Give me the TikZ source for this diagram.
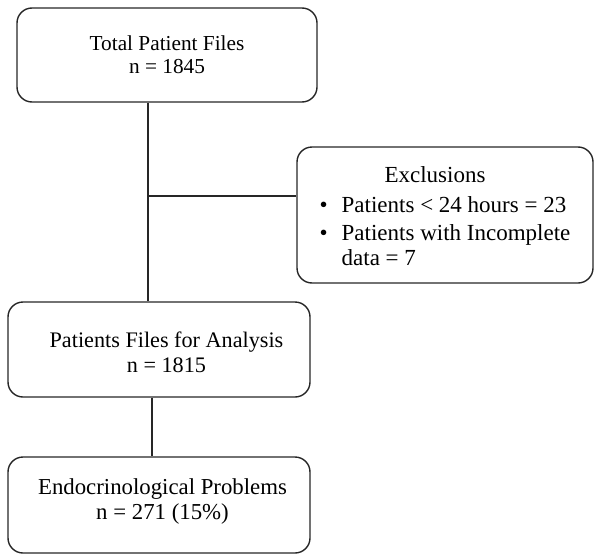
\documentclass[tikz,border=0pt]{standalone}
\usepackage{fontspec}
\setmainfont{Liberation Serif}
\begin{document}
\begin{tikzpicture}[x=1pt,y=-1pt,
  flowbox/.style={draw=black!85,line width=1.4pt,rounded corners=15pt,align=center,inner sep=0pt},
  link/.style={draw=black!85,line width=1.4pt}]
\useasboundingbox (0,0) rectangle (594,554);
\node[flowbox,minimum width=300pt,minimum height=94pt,font=\fontsize{21.3}{23}\selectfont]
  (total) at (167,55) {Total Patient Files\\n = 1845};
\node[flowbox,minimum width=296pt,minimum height=136pt,font=\fontsize{23}{28}\selectfont]
  (excl) at (445,215) {\begin{tabular}{@{}l@{\hspace{14pt}}l@{}}
  \multicolumn{2}{c}{\rule{0pt}{26.6pt}Exclusions\rule{20pt}{0pt}}\\[2pt]
  \textbullet & Patients < 24 hours = 23\\
  \textbullet & Patients with Incomplete\\[-3pt]
   & data = 7
  \end{tabular}};
\node[flowbox,minimum width=302pt,minimum height=95pt,font=\fontsize{22.2}{25}\selectfont]
  (analysis) at (159,349.5) {\hspace{15pt}Patients Files for Analysis\\\hspace{15pt}n = 1815\\[-31pt]};
\node[flowbox,minimum width=302pt,minimum height=96pt,font=\fontsize{22.8}{25}\selectfont]
  (endo) at (159,505) {\hspace{7pt}Endocrinological Problems\\\hspace{7pt}n = 271 (15\%)\\[-13pt]};
\coordinate (junc) at (148,196);
\coordinate (mid) at (152,420);
\draw[link] (junc |- total.south) -- (junc |- analysis.north);
\draw[link] (junc) -- (junc -| excl.west);
\draw[link] (mid |- analysis.south) -- (mid |- endo.north);
\end{tikzpicture}
\end{document}
